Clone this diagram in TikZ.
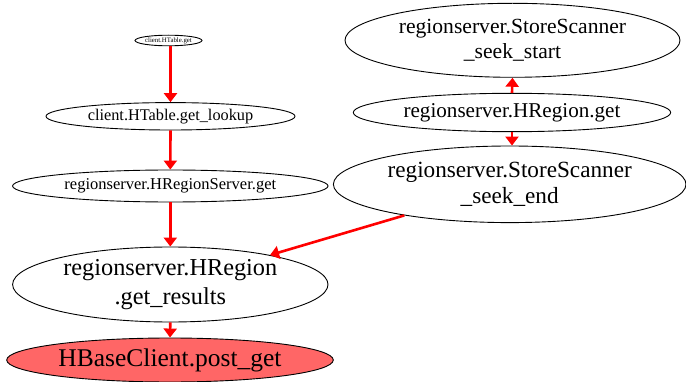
\documentclass[tikz,border=0pt]{standalone}
\usepackage{fontspec}
\setmainfont{Liberation Serif}
\usetikzlibrary{shapes.geometric,arrows.meta}
\definecolor{nodered}{RGB}{255,102,102}
\tikzset{
  fn/.style={ellipse, draw=black, line width=0.9pt, inner sep=0pt, align=center},
  edge/.style={draw=red, line width=2.6pt, -{Triangle[length=9pt,width=13pt]}},
}
\begin{document}
\begin{tikzpicture}[x=1pt,y=1pt]
\useasboundingbox (0,0) rectangle (686,381);
\node[fn, minimum width=67pt, minimum height=10.6pt, font=\fontsize{6.8}{8}\selectfont] (n1) at (168.5,340.5) {client.HTable.get};
\node[fn, minimum width=249pt, minimum height=27.4pt, font=\fontsize{16.3}{18.7}\selectfont] (n2) at (170.5,264.7) {client.HTable.get\_lookup};
\node[fn, minimum width=315.4pt, minimum height=32pt, font=\fontsize{16.5}{19}\selectfont] (n3) at (170.3,195) {regionserver.HRegionServer.get};
\node[fn, minimum width=315.4pt, minimum height=75pt, font=\fontsize{24.3}{28.3}\selectfont] (n4) at (170.3,96.5) {regionserver.HRegion\\.get\_results};
\node[fn, fill=nodered, minimum width=326.6pt, minimum height=44pt, font=\fontsize{25.5}{29}\selectfont] (n5) at (170,21) {HBaseClient.post\_get};
\node[fn, minimum width=335pt, minimum height=74pt, font=\fontsize{21.6}{25}\selectfont] (n6) at (512.5,340.7) {regionserver.StoreScanner\\\_seek\_start};
\node[fn, minimum width=317.4pt, minimum height=38.4pt, font=\fontsize{21.1}{24}\selectfont] (n7) at (512,268.5) {regionserver.HRegion.get};
\node[fn, minimum width=352.6pt, minimum height=76.6pt, font=\fontsize{23.2}{25.5}\selectfont] (n8) at (509.7,196.7) {regionserver.StoreScanner\\\_seek\_end};
\draw[edge] (n2.north |- n1.south) -- (n2.north);
\draw[edge] (n2.south) -- (n3.north);
\draw[edge] (n3.south) -- (n4.north);
\draw[edge] (n4.south) -- (n5.north);
\draw[edge] (n8) -- (n4);
\draw[edge] (n7.north) -- (n6.south);
\draw[edge] (n7.south) -- (n7.south |- n8.north);
\end{tikzpicture}
\end{document}
